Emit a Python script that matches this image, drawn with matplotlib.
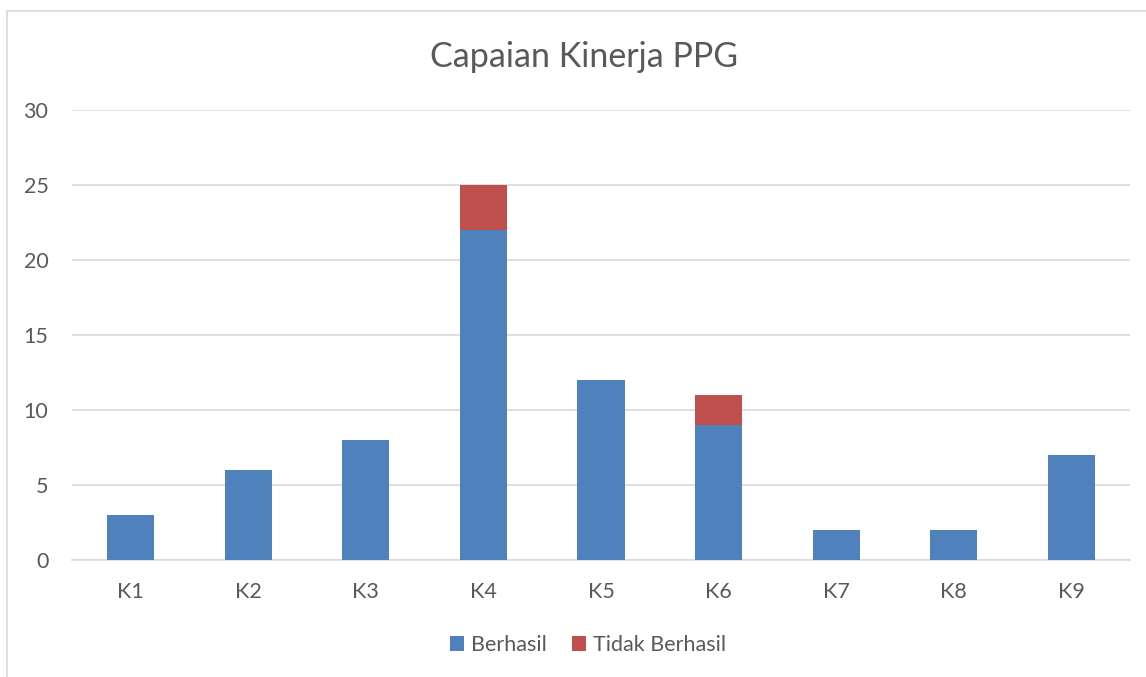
import matplotlib.pyplot as plt
from matplotlib.patches import Rectangle

categories = ["K1", "K2", "K3", "K4", "K5", "K6", "K7", "K8", "K9"]
berhasil = [3, 6, 8, 22, 12, 9, 2, 2, 7]
tidak_berhasil = [0, 0, 0, 3, 0, 2, 0, 0, 0]

plt.rcParams['font.family'] = ['Lato', 'DejaVu Sans']

W, H = 1146, 677
fig = plt.figure(figsize=(W / 100, H / 100), dpi=100)

# chart border (light gray, runs off right/bottom edge)
fig.patches.append(Rectangle((7 / W, -0.1), 1.2, 1 - 11 / H + 0.1,
                             transform=fig.transFigure, fill=False,
                             edgecolor='#D9D9D9', linewidth=1.2))

ax = fig.add_axes([72 / W, 1 - 560 / H, (1130 - 72) / W, (560 - 110) / H])

x = range(len(categories))
ax.bar(x, berhasil, width=0.4, color='#4F81BD', label='Berhasil', zorder=3)
ax.bar(x, tidak_berhasil, width=0.4, bottom=berhasil, color='#C0504D',
       label='Tidak Berhasil', zorder=3)

ax.set_xlim(-0.5, len(categories) - 0.5)
ax.set_ylim(0, 30)
ax.set_yticks(range(0, 31, 5))
ax.set_xticks(list(x))
ax.set_xticklabels(categories)
ax.grid(axis='y', color='#D9D9D9', linewidth=1.2, zorder=0)
for s in ['top', 'right', 'left']:
    ax.spines[s].set_visible(False)
ax.spines['bottom'].set_color('#D9D9D9')
ax.spines['bottom'].set_linewidth(1.2)
ax.tick_params(axis='both', length=0, labelsize=15.5, colors='#595959')
ax.tick_params(axis='x', pad=16)
ax.tick_params(axis='y', pad=17)

fig.text(584 / W, 1 - 57 / H, "Capaian Kinerja PPG", ha='center', va='center',
         fontsize=24.5, color='#595959')

fig.legend(loc='center', bbox_to_anchor=(588 / W, 1 - 645 / H), ncol=2,
           frameon=False, fontsize=15.5, handlelength=0.65, handleheight=0.65,
           columnspacing=1.2, handletextpad=0.3, labelcolor='#595959')

fig.savefig("out.png", dpi=100)
